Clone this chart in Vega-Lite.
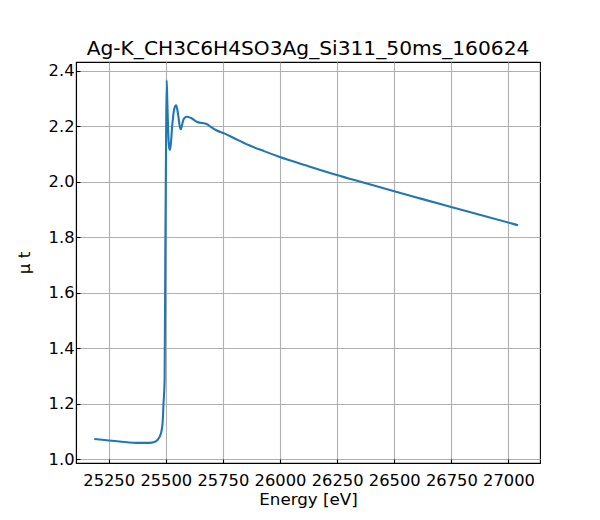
{
  "$schema": "https://vega.github.io/schema/vega-lite/v6.json",
  "width": 464,
  "height": 401,
  "autosize": {"type": "none"},
  "padding": {"left": 76, "top": 62, "right": 60, "bottom": 57},
  "background": "white",
  "title": {
    "text": "Ag-K_CH3C6H4SO3Ag_Si311_50ms_160624",
    "fontSize": 20.2,
    "fontWeight": "normal",
    "font": "DejaVu Sans",
    "color": "#000",
    "offset": 3
  },
  "data": {
    "values": [
      {"energy": 25187, "mu": 1.073},
      {"energy": 25297, "mu": 1.064},
      {"energy": 25384, "mu": 1.059},
      {"energy": 25428, "mu": 1.059},
      {"energy": 25450, "mu": 1.062},
      {"energy": 25464, "mu": 1.070},
      {"energy": 25479, "mu": 1.094},
      {"energy": 25486, "mu": 1.130},
      {"energy": 25490, "mu": 1.200},
      {"energy": 25495, "mu": 1.286},
      {"energy": 25498, "mu": 1.756},
      {"energy": 25501, "mu": 2.116},
      {"energy": 25504, "mu": 2.365},
      {"energy": 25507, "mu": 2.28},
      {"energy": 25511, "mu": 2.17},
      {"energy": 25515, "mu": 2.122},
      {"energy": 25518, "mu": 2.114},
      {"energy": 25522, "mu": 2.135},
      {"energy": 25528, "mu": 2.200},
      {"energy": 25537, "mu": 2.262},
      {"energy": 25545, "mu": 2.275},
      {"energy": 25550, "mu": 2.262},
      {"energy": 25555, "mu": 2.236},
      {"energy": 25561, "mu": 2.200},
      {"energy": 25566, "mu": 2.189},
      {"energy": 25571, "mu": 2.203},
      {"energy": 25576, "mu": 2.221},
      {"energy": 25584, "mu": 2.231},
      {"energy": 25592, "mu": 2.234},
      {"energy": 25611, "mu": 2.229},
      {"energy": 25638, "mu": 2.215},
      {"energy": 25681, "mu": 2.207},
      {"energy": 25699, "mu": 2.196},
      {"energy": 25721, "mu": 2.185},
      {"energy": 25756, "mu": 2.174},
      {"energy": 25810, "mu": 2.152},
      {"energy": 25865, "mu": 2.131},
      {"energy": 25930, "mu": 2.110},
      {"energy": 25996, "mu": 2.090},
      {"energy": 26120, "mu": 2.057},
      {"energy": 26245, "mu": 2.025},
      {"energy": 26368, "mu": 1.996},
      {"energy": 26496, "mu": 1.966},
      {"energy": 26620, "mu": 1.938},
      {"energy": 26745, "mu": 1.910},
      {"energy": 26870, "mu": 1.882},
      {"energy": 27042, "mu": 1.843}
    ]
  },
  "mark": {"type": "line", "color": "#1f77b4", "strokeWidth": 2.1, "interpolate": "monotone"},
  "encoding": {
    "x": {
      "field": "energy",
      "type": "quantitative",
      "title": "Energy [eV]",
      "scale": {"domain": [25107, 27138], "nice": false, "zero": false},
      "axis": {
        "values": [25250, 25500, 25750, 26000, 26250, 26500, 26750, 27000],
        "format": "d",
        "labelFontSize": 16.3,
        "labelPadding": 13,
        "titleFontSize": 16.7,
        "titlePadding": 3
      }
    },
    "y": {
      "field": "mu",
      "type": "quantitative",
      "title": "μ t",
      "scale": {"domain": [0.9866, 2.431], "nice": false, "zero": false},
      "axis": {
        "values": [1.0, 1.2, 1.4, 1.6, 1.8, 2.0, 2.2, 2.4],
        "format": ".1f",
        "labelFontSize": 16.3,
        "labelPadding": 6,
        "titleFontSize": 16.7,
        "titlePadding": 15
      }
    }
  },
  "config": {
    "font": "DejaVu Sans",
    "view": {"stroke": "#000", "strokeWidth": 1.1},
    "axis": {
      "domainColor": "#000",
      "domainWidth": 1.1,
      "tickColor": "#000",
      "tickSize": -4,
      "tickWidth": 1.1,
      "labelColor": "#000",
      "titleFontWeight": "normal",
      "titleColor": "#000",
      "gridColor": "#b0b0b0",
      "gridWidth": 1.1,
      "gridOpacity": 1
    }
  }
}
